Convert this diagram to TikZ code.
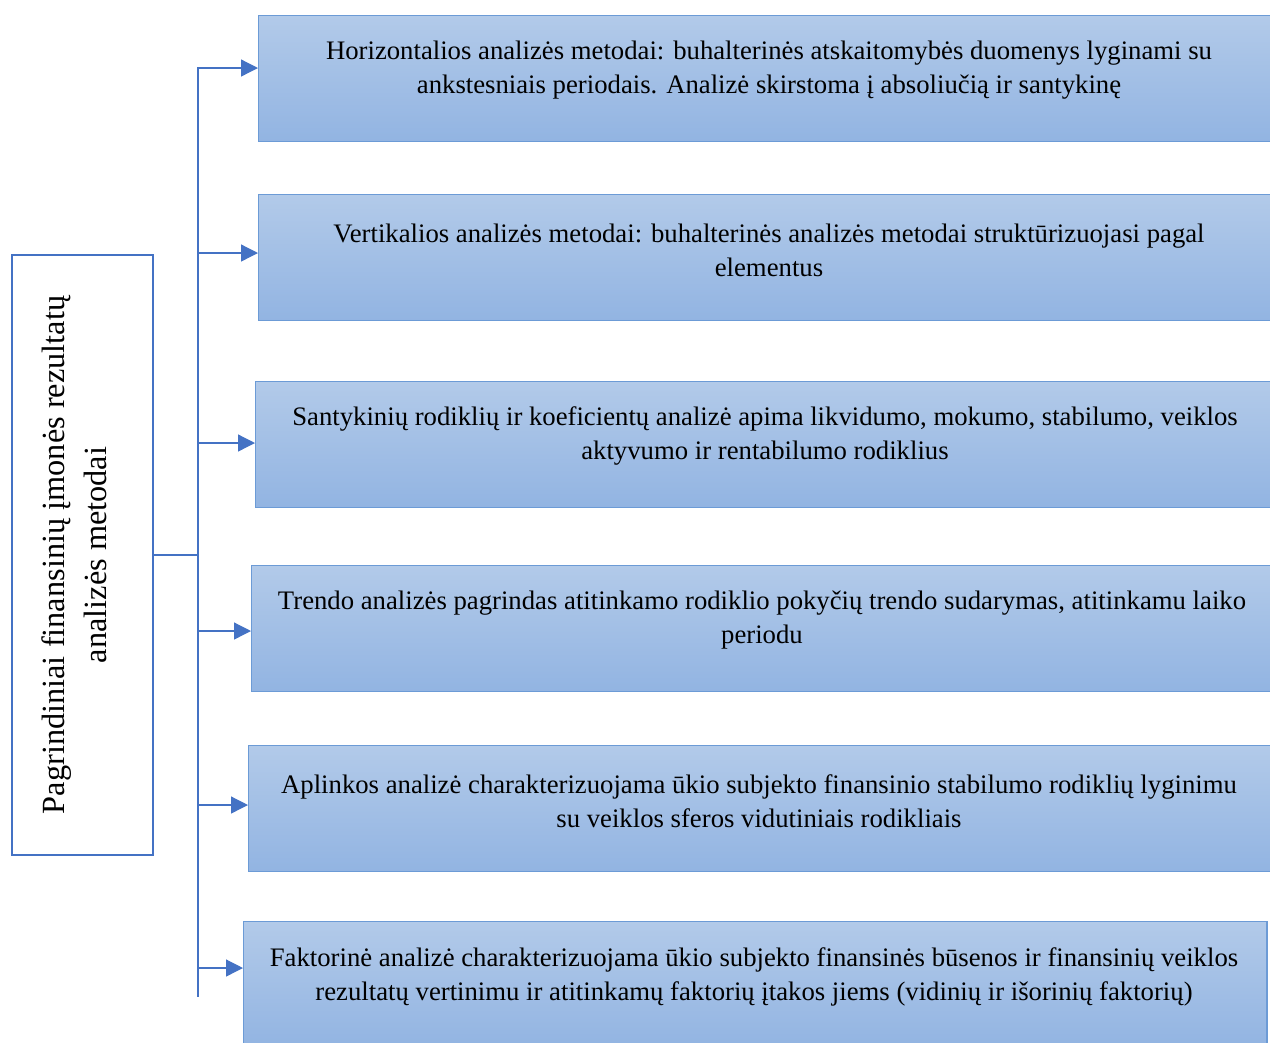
\documentclass[tikz,border=0pt]{standalone}
\usepackage{fontspec}
\setmainfont{Liberation Serif}
\usetikzlibrary{arrows.meta,positioning,calc}
\definecolor{edge}{HTML}{4472C4}
\definecolor{boxtop}{HTML}{B2CAE9}
\definecolor{boxbot}{HTML}{92B4E2}
\definecolor{boxline}{HTML}{6C9BD6}
\tikzset{box/.style={draw=boxline,line width=0.9pt,top color=boxtop,bottom color=boxbot,anchor=north west,minimum height=3.15cm,inner sep=0pt},arrow/.style={-{Triangle[length=4.2mm,width=4.2mm]},draw=edge,fill=edge,line width=0.9pt},line/.style={draw=edge,line width=0.9pt},lab/.style={font=\fontsize{19}{24}\selectfont,align=center}}

\begin{document}
\begin{tikzpicture}[x=0.025cm,y=-0.025cm]
\useasboundingbox (0,0) rectangle (1270,1042);
% method boxes
\node[box,minimum width=25.3cm] (h1) at (258,15) {};
\node[box,minimum width=25.3cm] (h2) at (258,194) {};
\node[box,minimum width=25.375cm] (h3) at (255,381) {};
\node[box,minimum width=25.475cm] (h4) at (251,565) {};
\node[box,minimum width=25.55cm] (h5) at (248,745) {};
\node[box,minimum width=25.575cm] (h6) at (243,921) {};
\node[lab] (t1) at (769,70) {Horizontalios analizės metodai: buhalterinės atskaitomybės duomenys lyginami su\\ankstesniais periodais. Analizė skirstoma į absoliučią ir santykinę};
\node[lab] (t2) at (769,250) {Vertikalios analizės metodai: buhalterinės analizės metodai struktūrizuojasi pagal\\elementus};
\node[lab] (t3) at (765,436) {Santykinių rodiklių ir koeficientų analizė apima likvidumo, mokumo, stabilumo, veiklos\\aktyvumo ir rentabilumo rodiklius};
\node[lab] (t4) at (762,620) {Trendo analizės pagrindas atitinkamo rodiklio pokyčių trendo sudarymas, atitinkamu laiko\\periodu};
\node[lab] (t5) at (759,801) {Aplinkos analizė charakterizuojama ūkio subjekto finansinio stabilumo rodiklių lyginimu\\su veiklos sferos vidutiniais rodikliais};
\node[lab] (t6) at (754,977) {Faktorinė analizė charakterizuojama ūkio subjekto finansinės būsenos ir finansinių veiklos\\rezultatų vertinimu ir atitinkamų faktorių įtakos jiems (vidinių ir išorinių faktorių)};
% main box
\node[draw=edge,line width=1.8pt,fill=white,minimum width=3.525cm,minimum height=15cm] (main) at (82.5,555) {};
\node[align=center,font=\fontsize{23}{30}\selectfont,rotate=90] (mtxt) at (74,555) {Pagrindiniai finansinių įmonės rezultatų\\analizės metodai};
% trunk and branches
\coordinate (top) at (198,67);
\coordinate (bot) at (198,997);
\draw[line] (top) -- (bot);
\draw[line] (main.east) -- (main.east -| top);
\foreach \n/\y in {h1/68,h2/253,h3/443,h4/631,h5/805,h6/968}{\coordinate (b\n) at (198,\y);\draw[arrow] (b\n) -- (b\n -| \n.west);}
\end{tikzpicture}
\end{document}
